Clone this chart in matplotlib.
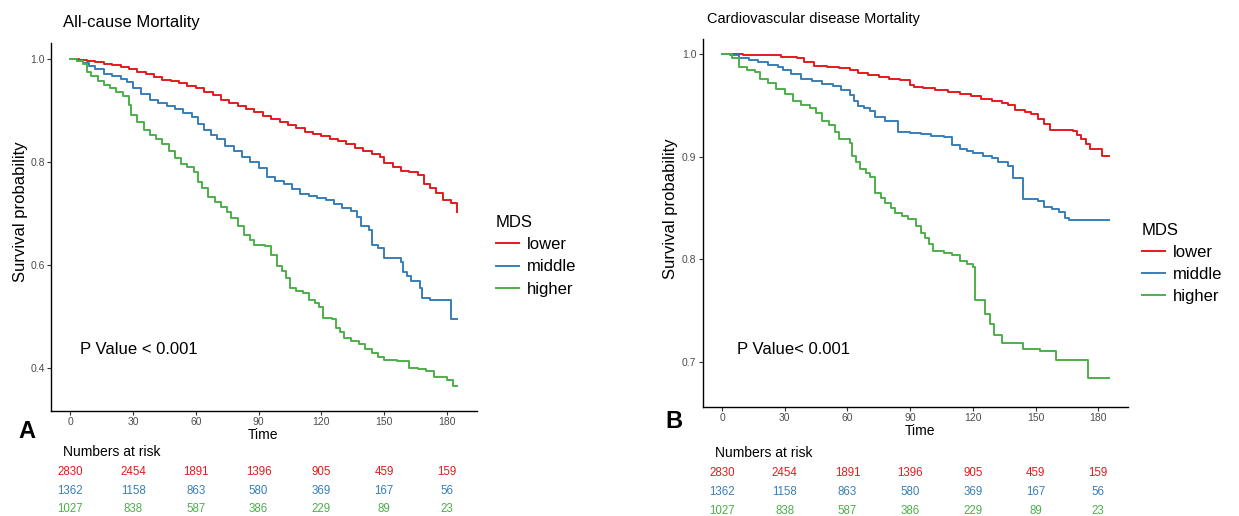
import matplotlib
matplotlib.use("Agg")
import matplotlib.pyplot as plt
import matplotlib.transforms as mtransforms

plt.rcParams['font.family'] = ['Liberation Sans', 'DejaVu Sans']

# ---- data ----
groups = ["lower", "middle", "higher"]
colors = ["#E41A1C", "#377EB8", "#4DAF4A"]
risk_times = [0, 30, 60, 90, 120, 150, 180]

# A: all-cause mortality
t_all_lower = [0, 4, 8, 12, 16, 20, 24, 28, 32, 36, 40, 44, 48, 52, 56, 60, 64, 68, 72, 76, 80,
               84, 88, 92, 96, 100, 104, 108, 112, 116, 120, 124, 128, 132, 136, 140, 144, 148,
               150, 154, 158, 162, 166, 169, 172, 175, 178, 182, 185]
s_all_lower = [1.0, 0.998, 0.997, 0.994, 0.991, 0.988, 0.985, 0.980, 0.976, 0.972, 0.966, 0.960,
               0.957, 0.953, 0.948, 0.943, 0.937, 0.930, 0.921, 0.915, 0.909, 0.903, 0.897, 0.889,
               0.884, 0.878, 0.872, 0.866, 0.859, 0.855, 0.850, 0.845, 0.840, 0.835, 0.828, 0.821,
               0.816, 0.810, 0.798, 0.790, 0.782, 0.780, 0.775, 0.757, 0.750, 0.740, 0.726, 0.720,
               0.702]
t_all_middle = [0, 3, 6, 9, 12, 16, 20, 24, 27, 30, 34, 38, 42, 46, 50, 54, 58, 61, 64, 67, 70,
                74, 78, 82, 86, 90, 94, 98, 102, 106, 110, 114, 118, 122, 126, 130, 134, 137, 139,
                143, 144, 147, 150, 158, 159, 161, 163, 167, 168, 172, 182, 185]
s_all_middle = [1.0, 0.996, 0.992, 0.986, 0.980, 0.972, 0.967, 0.962, 0.955, 0.944, 0.932, 0.921,
                0.914, 0.908, 0.903, 0.896, 0.888, 0.873, 0.862, 0.853, 0.845, 0.831, 0.822, 0.810,
                0.800, 0.788, 0.770, 0.764, 0.757, 0.748, 0.738, 0.734, 0.731, 0.727, 0.719, 0.711,
                0.704, 0.694, 0.675, 0.668, 0.639, 0.632, 0.613, 0.606, 0.587, 0.578, 0.568, 0.555,
                0.536, 0.531, 0.494, 0.494]
t_all_higher = [0, 3, 6, 8, 10, 13, 16, 19, 22, 25, 28, 29, 32, 35, 38, 41, 44, 47, 50, 53, 56,
                59, 61, 63, 66, 69, 72, 75, 77, 80, 83, 86, 88, 93, 96, 99, 101, 103, 105, 108, 111,
                114, 117, 119, 121, 125, 127, 129, 131, 134, 138, 141, 144, 147, 150, 156, 160, 162,
                166, 170, 174, 180, 183, 185]
s_all_higher = [1.0, 0.996, 0.990, 0.975, 0.968, 0.958, 0.950, 0.944, 0.937, 0.928, 0.911, 0.891,
                0.877, 0.862, 0.853, 0.845, 0.836, 0.822, 0.808, 0.797, 0.790, 0.781, 0.762, 0.750,
                0.733, 0.722, 0.713, 0.703, 0.691, 0.675, 0.659, 0.648, 0.639, 0.636, 0.620, 0.597,
                0.588, 0.575, 0.555, 0.550, 0.545, 0.532, 0.526, 0.519, 0.496, 0.494, 0.477, 0.470,
                0.457, 0.452, 0.446, 0.437, 0.429, 0.421, 0.416, 0.414, 0.413, 0.400, 0.398, 0.394,
                0.382, 0.377, 0.364, 0.364]

# B: cardiovascular disease mortality
t_cvd_lower = [0, 10, 20, 28, 36, 39, 44, 50, 56, 61, 65, 70, 75, 80, 85, 90, 92, 96, 102, 108,
               114, 119, 124, 129, 134, 137, 140, 145, 148, 151, 154, 157, 168, 170, 172, 174, 176,
               182, 185]
s_cvd_lower = [1.0, 0.9995, 0.999, 0.998, 0.997, 0.993, 0.989, 0.988, 0.987, 0.985, 0.982, 0.980,
               0.978, 0.9765, 0.975, 0.970, 0.968, 0.967, 0.965, 0.963, 0.9615, 0.959, 0.957, 0.955,
               0.953, 0.951, 0.946, 0.944, 0.942, 0.937, 0.932, 0.9266, 0.9255, 0.921, 0.917, 0.913,
               0.908, 0.901, 0.901]
t_cvd_middle = [0, 4, 8, 13, 17, 22, 27, 29, 33, 38, 43, 48, 53, 57, 61, 63, 65, 68, 71, 73, 78,
                84, 90, 95, 100, 106, 110, 114, 117, 120, 125, 129, 132, 137, 139, 144, 151, 154,
                158, 161, 164, 166, 185]
s_cvd_middle = [1.0, 0.999, 0.9967, 0.995, 0.9927, 0.990, 0.9878, 0.9846, 0.981, 0.976, 0.974,
                0.9715, 0.969, 0.965, 0.960, 0.955, 0.950, 0.948, 0.9452, 0.9387, 0.935, 0.9246,
                0.9233, 0.922, 0.9207, 0.919, 0.9115, 0.908, 0.906, 0.904, 0.901, 0.899, 0.895,
                0.891, 0.8797, 0.859, 0.8567, 0.851, 0.849, 0.846, 0.840, 0.838, 0.838]
t_cvd_higher = [0, 5, 8, 12, 16, 18, 22, 26, 30, 34, 38, 42, 45, 48, 51, 54, 56, 61, 62, 64, 66,
                69, 71, 73, 76, 78, 81, 83, 86, 89, 93, 95, 97, 99, 101, 106, 110, 114, 117, 120,
                121, 126, 128, 130, 134, 144, 152, 160, 175, 185]
s_cvd_higher = [1.0, 0.997, 0.988, 0.985, 0.983, 0.976, 0.972, 0.966, 0.961, 0.955, 0.951, 0.948,
                0.943, 0.935, 0.931, 0.924, 0.917, 0.914, 0.901, 0.895, 0.888, 0.884, 0.880, 0.865,
                0.860, 0.855, 0.850, 0.845, 0.842, 0.839, 0.832, 0.826, 0.821, 0.815, 0.8076, 0.806,
                0.8043, 0.798, 0.795, 0.7928, 0.760, 0.747, 0.737, 0.7257, 0.718, 0.7125, 0.710,
                0.7017, 0.684, 0.684]

risk_lower = [2830, 2454, 1891, 1396, 905, 459, 159]
risk_middle = [1362, 1158, 863, 580, 369, 167, 56]
risk_higher = [1027, 838, 587, 386, 229, 89, 23]

# ---- layout (pixel based) ----
W, H = 1239, 516
fig = plt.figure(figsize=(W / 100, H / 100), dpi=100)


def fx(px):
    return px / W


def fy(py):
    return 1 - py / H


def km_panel(box, curves, yticks, ylim, title, title_kw, pval, pval_x, letter, lay):
    x0, y0, x1, y1 = box
    ax = fig.add_axes([fx(x0), fy(y1), fx(x1) - fx(x0), fy(y0) - fy(y1)])
    lines = []
    for (t, s), g, c in zip(curves, groups, colors):
        ln, = ax.step(t, s, where="post", color=c, lw=1.4, label=g)
        lines.append(ln)
    ax.set_xlim(-9.25, 194.25)
    ax.set_ylim(*ylim)
    ax.set_xticks(risk_times)
    ax.set_yticks(yticks)
    ax.set_yticklabels([f"{v:.1f}" for v in yticks])
    for side in ["top", "right"]:
        ax.spines[side].set_visible(False)
    for side in ["left", "bottom"]:
        ax.spines[side].set_linewidth(1.0)
    ax.tick_params(length=3, width=0.8, color="#333333", labelcolor="#4D4D4D",
                   labelsize=7.5, pad=1.5)

    fig.text(fx(lay["title"][0]), fy(lay["title"][1]), title, ha="left", va="center", **title_kw)
    fig.text(fx(lay["ylab"][0]), fy(lay["ylab"][1]), "Survival probability", rotation=90,
             ha="center", va="center", fontsize=12)
    fig.text(fx(lay["xlab"][0]), fy(lay["xlab"][1]), "Time", ha="center", va="center", fontsize=10)
    fig.text(fx(pval_x), fy(350), pval, ha="left", va="center", fontsize=12)
    fig.text(fx(lay["letter"][0]), fy(lay["letter"][1]), letter, ha="center", va="center",
             fontsize=17, fontweight="bold")

    ax.legend(handles=lines, title="MDS", loc="upper left", frameon=False,
              bbox_to_anchor=(fx(lay["legend"][0]), fy(lay["legend"][1])),
              bbox_transform=fig.transFigure, fontsize=12, title_fontsize=12,
              handlelength=1.4, handletextpad=0.45, labelspacing=lay["legend"][2],
              borderpad=0, borderaxespad=0, alignment="left")

    # numbers at risk under the axis
    fig.text(fx(lay["risk_title"][0]), fy(lay["risk_title"][1]), "Numbers at risk",
             ha="left", va="center", fontsize=10)
    trans = mtransforms.blended_transform_factory(ax.transData, fig.transFigure)
    for row, c, py in zip([risk_lower, risk_middle, risk_higher], colors, lay["risk_rows"]):
        for t, n in zip(risk_times, row):
            ax.text(t, fy(py), str(n), transform=trans, ha="center", va="center",
                    color=c, fontsize=8.3, clip_on=False)
    return ax


km_panel((51, 42.7, 476.7, 410.5),
         [(t_all_lower, s_all_lower), (t_all_middle, s_all_middle), (t_all_higher, s_all_higher)],
         [0.4, 0.6, 0.8, 1.0], (0.317, 1.032), "All-cause Mortality", {"fontsize": 12},
         "P Value < 0.001", 80, "A",
         {"title": (62.7, 22), "ylab": (20.5, 212), "xlab": (263, 435), "letter": (26.5, 431),
          "legend": (496, 215, 0.43), "risk_title": (63, 451.5),
          "risk_rows": (471.8, 490.5, 509.5)})

km_panel((702.7, 38.5, 1128, 407),
         [(t_cvd_lower, s_cvd_lower), (t_cvd_middle, s_cvd_middle), (t_cvd_higher, s_cvd_higher)],
         [0.7, 0.8, 0.9, 1.0], (0.6557, 1.0156), "Cardiovascular disease Mortality",
         {"fontsize": 10.5},
         "P Value< 0.001", 737, "B",
         {"title": (707, 19.5), "ylab": (671, 209), "xlab": (920, 431), "letter": (674, 422),
          "legend": (1142, 223, 0.41), "risk_title": (715, 453), "risk_rows": (473, 492, 511)})

fig.savefig("out.png", dpi=100)
